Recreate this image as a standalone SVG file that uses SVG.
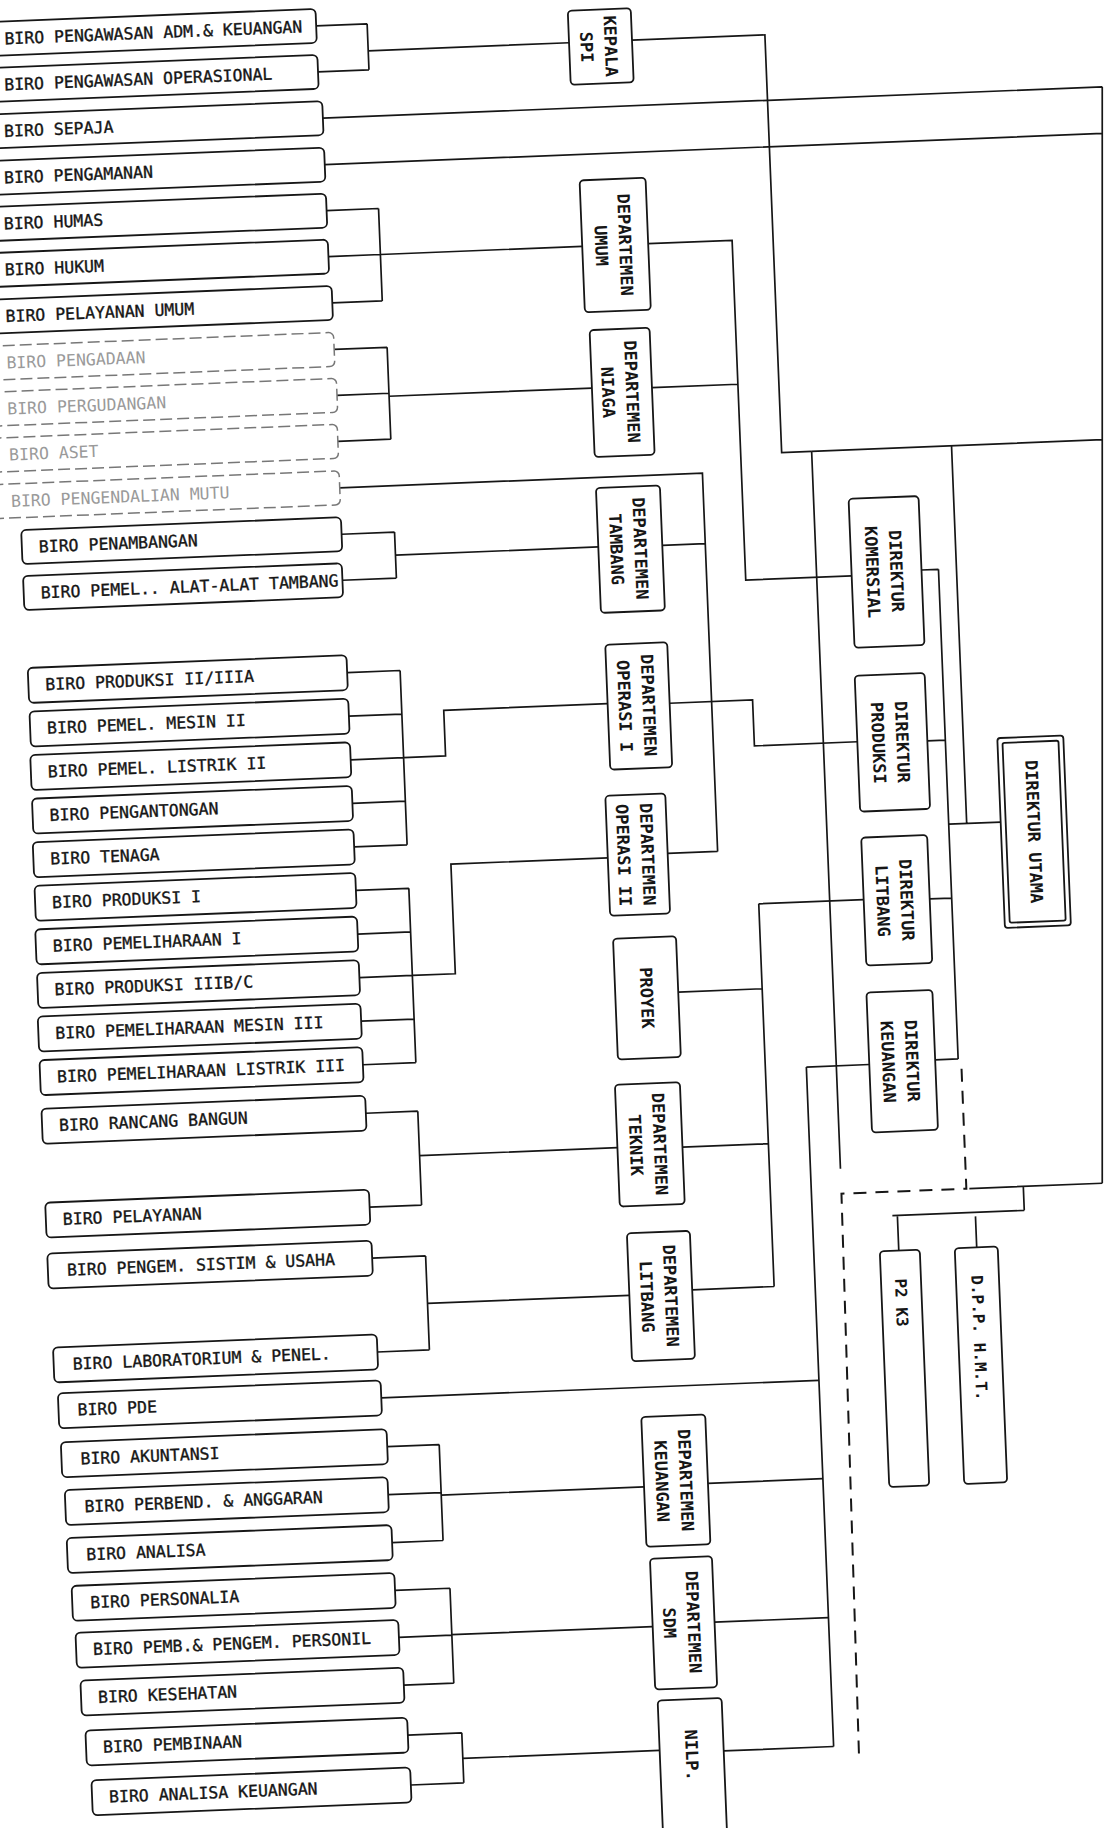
<svg xmlns="http://www.w3.org/2000/svg" width="1110" height="1828" viewBox="0 0 1110 1828">
<defs>
<style>
.bx{fill:#fff;stroke:#161616;stroke-width:1.8}
.fb{fill:#fff;stroke:#777;stroke-width:1.5;stroke-dasharray:12 5}
.ln{fill:none;stroke:#161616;stroke-width:1.7}
.dl{fill:none;stroke:#161616;stroke-width:2;stroke-dasharray:13 9}
.t{font-family:"DejaVu Sans Mono","Liberation Mono",monospace;font-size:16.5px;fill:#161616;stroke:#161616;stroke-width:0.35}
.tf{font-family:"DejaVu Sans Mono","Liberation Mono",monospace;font-size:16.5px;fill:#9a9a9a}
.v{font-family:"DejaVu Sans Mono","Liberation Mono",monospace;font-size:17px;font-weight:bold;fill:#161616;text-anchor:middle}
.vs{font-family:"DejaVu Sans Mono","Liberation Mono",monospace;font-size:16px;font-weight:bold;fill:#161616}
</style>
</defs>
<rect width="1110" height="1828" fill="#fff"/>
<g id="page" transform="rotate(-2.3 555 914)">
<g id="connectors">
<path class="ln" d="M352,17H403M352,63H403M403,17V63M403,44H604"/>
<path class="ln" d="M667,44H800V462H830"/>
<path class="ln" d="M355,109.5H1135M355,156H1133.4M1135,109.5L1091,1205M830,462H1121M830,462V1180"/>
<path class="ln" d="M355,202H407M355,248H407M357,294.5H407M407,202V294.5M407,248H609"/>
<path class="ln" d="M675,248H759V588H865M673,392H759"/>
<path class="ln" d="M357,341H410M358,387H410M357,433H410M410,341V433M410,390H613"/>
<path class="ln" d="M357,479.5H720V858M677,550H720M670,858H720"/>
<path class="ln" d="M357,526H410M356,572H410M410,526V572M410,549H613"/>
<path class="ln" d="M357,664.5H410M357,708.1H410M357,751.7H410M357,795.3H410M357,838.9H410M410,664.5V838.9M410,751.7H452V706H616"/>
<path class="ln" d="M678,708H761V754H864"/>
<path class="ln" d="M357,882.5H410M357,926.1H410M357,969.7H410M357,1013.3H410M357,1056.9H410M410,882.5V1056.9M410,969.7H453V860H610"/>
<path class="ln" d="M675,997H759M759,912V1295M759,912H864M673,1152H759M677,1295H759"/>
<path class="ln" d="M358,1105.5H410M358,1199.5H410M410,1105.5V1199.5M410,1150H608"/>
<path class="ln" d="M358.5,1250.5H412M360,1344.5H412M412,1250.5V1344.5M412,1298H614"/>
<path class="ln" d="M362,1390.5H800"/>
<path class="ln" d="M366,1439.5H418M365,1487.5H418M367,1535.5H418M418,1439.5V1535.5M418,1490H621M685,1489H800"/>
<path class="ln" d="M368,1583.5H423M370,1630.5H423M373,1678.5H423M423,1583.5V1678.5M423,1630H624M686,1628H800"/>
<path class="ln" d="M375,1728.5H429M376,1778.5H429M429,1728.5V1778.5M429,1754H626M690,1757H800"/>
<path class="ln" d="M800,1077V1757M800,1077H863"/>
<path class="ln" d="M935,585H952M934,756H952M930,914H952M929,1075H952M952,585V1075M952,840H1004M970,462V840"/>
<path class="dl" d="M955,1085V1205H830L825,1765"/>
<path class="ln" d="M958,1205H1091M1012,1205V1229M880,1229H1012M885,1229V1264M963,1233V1264"/>
</g>
<g id="r1"><rect class="bx" x="-30" y="0" width="382" height="34" rx="5"/><text class="t" x="40" y="23">BIRO PENGAWASAN ADM.&amp; KEUANGAN</text></g>
<g id="r2"><rect class="bx" x="-30" y="46" width="382" height="34" rx="5"/><text class="t" x="38" y="69">BIRO PENGAWASAN OPERASIONAL</text></g>
<g id="r3"><rect class="bx" x="-30" y="92.5" width="385" height="34" rx="5"/><text class="t" x="36" y="115.5">BIRO SEPAJA</text></g>
<g id="r4"><rect class="bx" x="-30" y="139" width="385" height="34" rx="5"/><text class="t" x="34" y="162">BIRO PENGAMANAN</text></g>
<g id="r5"><rect class="bx" x="-30" y="185" width="385" height="34" rx="5"/><text class="t" x="32" y="208">BIRO HUMAS</text></g>
<g id="r6"><rect class="bx" x="-30" y="231" width="385" height="34" rx="5"/><text class="t" x="31" y="254">BIRO HUKUM</text></g>
<g id="r7"><rect class="bx" x="-30" y="277.5" width="387" height="34" rx="5"/><text class="t" x="30" y="300.5">BIRO PELAYANAN UMUM</text></g>
<g id="r8"><rect class="fb" x="-30" y="324" width="387" height="34" rx="5"/><text class="tf" x="29" y="347">BIRO PENGADAAN</text></g>
<g id="r9"><rect class="fb" x="-30" y="370" width="388" height="34" rx="5"/><text class="tf" x="28" y="393">BIRO PERGUDANGAN</text></g>
<g id="r10"><rect class="fb" x="-30" y="416" width="387" height="34" rx="5"/><text class="tf" x="28" y="439">BIRO ASET</text></g>
<g id="r11"><rect class="fb" x="-30" y="462.5" width="387" height="34" rx="5"/><text class="tf" x="28" y="485.5">BIRO PENGENDALIAN MUTU</text></g>
<g id="r12"><rect class="bx" x="37" y="509" width="320" height="34" rx="5"/><text class="t" x="54" y="532">BIRO PENAMBANGAN</text></g>
<g id="r13"><rect class="bx" x="37" y="555" width="319" height="34" rx="5"/><text class="t" x="54" y="578">BIRO PEMEL.. ALAT-ALAT TAMBANG</text></g>
<g id="r14"><rect class="bx" x="38" y="647" width="319" height="35" rx="5"/><text class="t" x="55" y="670">BIRO PRODUKSI II/IIIA</text></g>
<g id="r15"><rect class="bx" x="38" y="690.6" width="319" height="35" rx="5"/><text class="t" x="55" y="713.6">BIRO PEMEL. MESIN II</text></g>
<g id="r16"><rect class="bx" x="37" y="734.2" width="320" height="35" rx="5"/><text class="t" x="54" y="757.2">BIRO PEMEL. LISTRIK II</text></g>
<g id="r17"><rect class="bx" x="37" y="777.8" width="320" height="35" rx="5"/><text class="t" x="54" y="800.8">BIRO PENGANTONGAN</text></g>
<g id="r18"><rect class="bx" x="36" y="821.4" width="321" height="35" rx="5"/><text class="t" x="53" y="844.4">BIRO TENAGA</text></g>
<g id="r19"><rect class="bx" x="36" y="865" width="321" height="35" rx="5"/><text class="t" x="53" y="888">BIRO PRODUKSI I</text></g>
<g id="r20"><rect class="bx" x="35" y="908.6" width="322" height="35" rx="5"/><text class="t" x="52" y="931.6">BIRO PEMELIHARAAN I</text></g>
<g id="r21"><rect class="bx" x="35" y="952.2" width="322" height="35" rx="5"/><text class="t" x="52" y="975.2">BIRO PRODUKSI IIIB/C</text></g>
<g id="r22"><rect class="bx" x="34" y="995.8" width="323" height="35" rx="5"/><text class="t" x="51" y="1018.8">BIRO PEMELIHARAAN MESIN III</text></g>
<g id="r23"><rect class="bx" x="34" y="1039.4" width="323" height="35" rx="5"/><text class="t" x="51" y="1062.4">BIRO PEMELIHARAAN LISTRIK III</text></g>
<g id="r24"><rect class="bx" x="34" y="1088" width="324" height="35" rx="5"/><text class="t" x="51" y="1111">BIRO RANCANG BANGUN</text></g>
<g id="r25"><rect class="bx" x="34" y="1182" width="324" height="35" rx="5"/><text class="t" x="51" y="1205">BIRO PELAYANAN</text></g>
<g id="r26"><rect class="bx" x="34" y="1233" width="324.5" height="35" rx="5"/><text class="t" x="53" y="1256">BIRO PENGEM. SISTIM &amp; USAHA</text></g>
<g id="r27"><rect class="bx" x="36" y="1327" width="324" height="35" rx="5"/><text class="t" x="55" y="1350">BIRO LABORATORIUM &amp; PENEL.</text></g>
<g id="r28"><rect class="bx" x="39" y="1373" width="323" height="35" rx="5"/><text class="t" x="58" y="1396">BIRO PDE</text></g>
<g id="r29"><rect class="bx" x="40" y="1422" width="326" height="35" rx="5"/><text class="t" x="59" y="1445">BIRO AKUNTANSI</text></g>
<g id="r30"><rect class="bx" x="42" y="1470" width="323" height="35" rx="5"/><text class="t" x="61" y="1493">BIRO PERBEND. &amp; ANGGARAN</text></g>
<g id="r31"><rect class="bx" x="42" y="1518" width="325" height="35" rx="5"/><text class="t" x="61" y="1541">BIRO ANALISA</text></g>
<g id="r32"><rect class="bx" x="45" y="1566" width="323" height="35" rx="5"/><text class="t" x="63" y="1589">BIRO PERSONALIA</text></g>
<g id="r33"><rect class="bx" x="47" y="1613" width="323" height="35" rx="5"/><text class="t" x="64" y="1636">BIRO PEMB.&amp; PENGEM. PERSONIL</text></g>
<g id="r34"><rect class="bx" x="50" y="1661" width="323" height="35" rx="5"/><text class="t" x="67" y="1684">BIRO KESEHATAN</text></g>
<g id="r35"><rect class="bx" x="53" y="1711" width="322" height="35" rx="5"/><text class="t" x="70" y="1734">BIRO PEMBINAAN</text></g>
<g id="r36"><rect class="bx" x="57" y="1761" width="319" height="35" rx="5"/><text class="t" x="74" y="1784">BIRO ANALISA KEUANGAN</text></g>
<g id="spi"><rect class="bx" x="604" y="12" width="63" height="74" rx="4"/><text class="v" transform="translate(635.5,49) rotate(90)"><tspan x="0" y="-4">KEPALA</tspan><tspan x="0" y="20">SPI</tspan></text></g>
<g id="d-umum"><rect class="bx" x="609" y="182" width="66" height="132" rx="4"/><text class="v" transform="translate(642,248) rotate(90)"><tspan x="0" y="-4">DEPARTEMEN</tspan><tspan x="0" y="20">UMUM</tspan></text></g>
<g id="d-niaga"><rect class="bx" x="613" y="332" width="60" height="127" rx="4"/><text class="v" transform="translate(643,395) rotate(90)"><tspan x="0" y="-4">DEPARTEMEN</tspan><tspan x="0" y="20">NIAGA</tspan></text></g>
<g id="d-tambang"><rect class="bx" x="613" y="490" width="64" height="125" rx="4"/><text class="v" transform="translate(645,552) rotate(90)"><tspan x="0" y="-4">DEPARTEMEN</tspan><tspan x="0" y="20">TAMBANG</tspan></text></g>
<g id="d-op1"><rect class="bx" x="616" y="647" width="62" height="125" rx="4"/><text class="v" transform="translate(647,709) rotate(90)"><tspan x="0" y="-4">DEPARTEMEN</tspan><tspan x="0" y="20">OPERASI I</tspan></text></g>
<g id="d-op2"><rect class="bx" x="610" y="798" width="60" height="120" rx="4"/><text class="v" transform="translate(640,858) rotate(90)"><tspan x="0" y="-4">DEPARTEMEN</tspan><tspan x="0" y="20">OPERASI II</tspan></text></g>
<g id="d-proyek"><rect class="bx" x="612" y="941" width="63" height="121" rx="4"/><text class="v" transform="translate(643.5,1001.5) rotate(90)" y="6">PROYEK</text></g>
<g id="d-teknik"><rect class="bx" x="608" y="1087" width="65" height="122" rx="4"/><text class="v" transform="translate(640.5,1148) rotate(90)"><tspan x="0" y="-4">DEPARTEMEN</tspan><tspan x="0" y="20">TEKNIK</tspan></text></g>
<g id="d-litbang"><rect class="bx" x="614" y="1236" width="63" height="128" rx="4"/><text class="v" transform="translate(645.5,1300) rotate(90)"><tspan x="0" y="-4">DEPARTEMEN</tspan><tspan x="0" y="20">LITBANG</tspan></text></g>
<g id="d-keuangan"><rect class="bx" x="621" y="1420" width="64" height="130" rx="4"/><text class="v" transform="translate(653,1485) rotate(90)"><tspan x="0" y="-4">DEPARTEMEN</tspan><tspan x="0" y="20">KEUANGAN</tspan></text></g>
<g id="d-sdm"><rect class="bx" x="624" y="1562" width="62" height="131" rx="4"/><text class="v" transform="translate(655,1627) rotate(90)"><tspan x="0" y="-4">DEPARTEMEN</tspan><tspan x="0" y="20">SDM</tspan></text></g>
<g id="d-nilp"><rect class="bx" x="626" y="1704" width="64" height="200" rx="4"/><text class="v" transform="translate(658,1760) rotate(90)" y="6">NILP.</text></g>
<g id="dir-komersial"><rect class="bx" x="865" y="511" width="70" height="149" rx="4"/><text class="v" transform="translate(900,585) rotate(90)"><tspan x="0" y="-4">DIREKTUR</tspan><tspan x="0" y="20">KOMERSIAL</tspan></text></g>
<g id="dir-produksi"><rect class="bx" x="864" y="688" width="70" height="136" rx="4"/><text class="v" transform="translate(899,756) rotate(90)"><tspan x="0" y="-4">DIREKTUR</tspan><tspan x="0" y="20">PRODUKSI</tspan></text></g>
<g id="dir-litbang"><rect class="bx" x="864" y="850" width="66" height="128" rx="4"/><text class="v" transform="translate(897,914) rotate(90)"><tspan x="0" y="-4">DIREKTUR</tspan><tspan x="0" y="20">LITBANG</tspan></text></g>
<g id="dir-keuangan"><rect class="bx" x="863" y="1005" width="66" height="140" rx="4"/><text class="v" transform="translate(896,1075) rotate(90)"><tspan x="0" y="-4">DIREKTUR</tspan><tspan x="0" y="20">KEUANGAN</tspan></text></g>
<g id="dir-utama"><rect class="bx" x="1004" y="756" width="66" height="190" rx="3"/><rect class="bx" x="1009" y="761" width="56" height="180" rx="2"/><text class="v" transform="translate(1037,851) rotate(90)" y="6">DIREKTUR UTAMA</text></g>
<g id="p2k3"><rect class="bx" x="866" y="1264" width="40" height="236" rx="4"/><text class="vs" transform="translate(886,1292) rotate(90)" y="6">P2 K3</text></g>
<g id="dpp"><rect class="bx" x="941" y="1264" width="43" height="236" rx="4"/><text class="vs" transform="translate(962.5,1292) rotate(90)" y="6">D.P.P. H.M.T.</text></g>
</g>
</svg>
